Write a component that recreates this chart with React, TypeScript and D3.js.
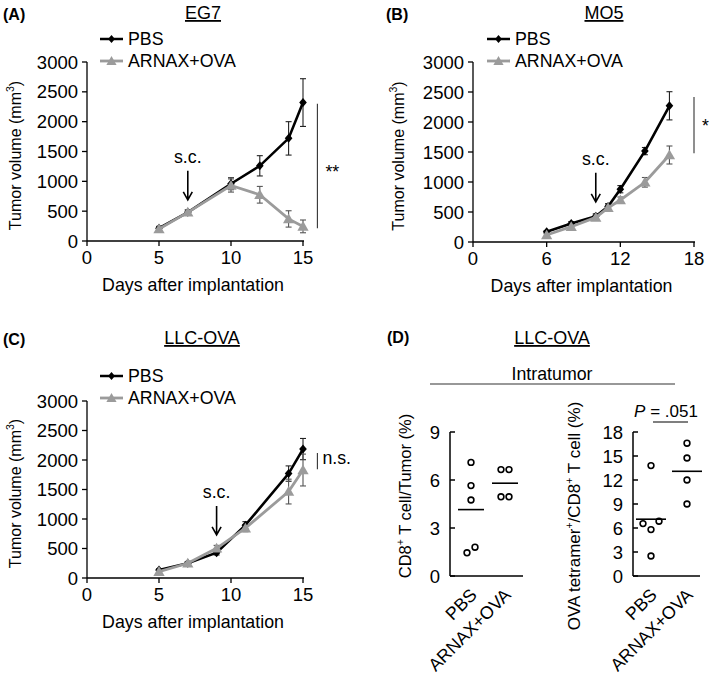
import React from 'react';
import * as d3 from 'd3';

const FONT = "'Liberation Sans', Arial, Helvetica, sans-serif";

// ---------- Panel A: EG7 ----------
const daysA = [5, 7, 10, 12, 14, 15];
const pbsA = [215, 480, 960, 1260, 1720, 2320];
const pbsErrA = [30, 40, 100, 170, 280, 400];
const arnaxA = [200, 480, 930, 775, 370, 245];
const arnaxErrA = [30, 40, 110, 140, 137, 107];
const xTicksA = [0, 5, 10, 15];

// ---------- Panel B: MO5 ----------
const daysB = [6, 8, 10, 11, 12, 14, 16];
const pbsB = [170, 310, 430, 590, 880, 1515, 2270];
const pbsErrB = [20, 30, 40, 50, 60, 60, 235];
const arnaxB = [117, 255, 410, 570, 700, 995, 1450];
const arnaxErrB = [20, 30, 40, 50, 50, 80, 150];
const xTicksB = [0, 6, 12, 18];

// ---------- Panel C: LLC-OVA ----------
const daysC = [5, 7, 9, 11, 14, 15];
const pbsC = [135, 250, 430, 895, 1770, 2185];
const pbsErrC = [20, 30, 40, 60, 130, 180];
const arnaxC = [108, 250, 503, 845, 1465, 1830];
const arnaxErrC = [20, 30, 50, 60, 210, 270];
const xTicksC = [0, 5, 10, 15];

const yTicksVolume = [0, 500, 1000, 1500, 2000, 2500, 3000];

// ---------- Panel D: LLC-OVA intratumor ----------
const groupsD = ['PBS', 'ARNAX+OVA'];
const cd8PBS = [7.1, 5.65, 4.75, 1.8, 1.45];
const cd8ARNAX = [6.65, 6.65, 4.95, 4.95];
const tetPBS = [13.8, 6.55, 6.85, 5.8, 2.5];
const tetARNAX = [16.6, 14.75, 12.0, 9.0];
const yTicksCD8 = [0, 3, 6, 9];
const yTicksTet = [0, 3, 6, 9, 12, 15, 18];

type Sig = { day: number; top: number; bottom: number; label: string };

type GrowthProps = {
  letter: string;
  title: string;
  days: number[];
  pbs: number[];
  pbsErr: number[];
  arnax: number[];
  arnaxErr: number[];
  xMax: number;
  xTicks: number[];
  left: number;
  right: number;
  top: number;
  bottom: number;
  letterX: number;
  titleX: number;
  headY: number;
  legendX: number;
  legendY: number;
  scDay: number;
  scTip: number;
  sig: Sig;
  sigLabelDx: number;
  sigLabelDy: number;
  yLabelX: number;
};

const TICK_FS = 18.5;
const LABEL_FS = 17.8;
const VLABEL_FS = 16;
const LETTER_FS = 16;

function Diamond({ cx, cy, s, fill }: { cx: number; cy: number; s: number; fill: string }) {
  return (
    <path
      d={`M${cx},${cy - s} L${cx + s * 0.85},${cy} L${cx},${cy + s} L${cx - s * 0.85},${cy} Z`}
      fill={fill}
    />
  );
}

function Triangle({ cx, cy, s, fill }: { cx: number; cy: number; s: number; fill: string }) {
  const p = d3.symbol(d3.symbolTriangle, s)();
  return <path d={p || ''} transform={`translate(${cx},${cy + 1})`} fill={fill} />;
}

function GrowthPanel(p: GrowthProps) {
  const x = d3.scaleLinear().domain([0, p.xMax]).range([p.left, p.right]);
  const y = d3.scaleLinear().domain([0, 3000]).range([p.bottom, p.top]);
  const line = d3
    .line<[number, number]>()
    .x((d) => x(d[0]))
    .y((d) => y(d[1]));
  const pbsPts = p.days.map((d, i) => [d, p.pbs[i]] as [number, number]);
  const arPts = p.days.map((d, i) => [d, p.arnax[i]] as [number, number]);
  const black = '#000';
  const gray = '#9b9b9b';
  const capW = 3;

  const errBars = (vals: number[], errs: number[], color: string) =>
    p.days.map((d, i) => {
      const cx = x(d);
      const y1 = y(vals[i] + errs[i]);
      const y2 = y(vals[i] - errs[i]);
      return (
        <g key={i} stroke={color} strokeWidth={1.1}>
          <line x1={cx} x2={cx} y1={y1} y2={y2} />
          <line x1={cx - capW} x2={cx + capW} y1={y1} y2={y1} />
          <line x1={cx - capW} x2={cx + capW} y1={y2} y2={y2} />
        </g>
      );
    });

  const scX = x(p.scDay);
  const tipY = y(p.scTip);
  const tailY = tipY - 29;
  const sigX = x(p.sig.day);
  const sigY1 = y(p.sig.top);
  const sigY2 = y(p.sig.bottom);

  return (
    <g fontFamily={FONT} fill="#000">
      <text x={p.letterX} y={p.headY + 1} fontSize={LETTER_FS} fontWeight="bold">
        {p.letter}
      </text>
      <text x={p.titleX} y={p.headY} fontSize={18} textAnchor="middle" textDecoration="underline">
        {p.title}
      </text>

      {/* legend */}
      <g>
        <line x1={p.legendX} x2={p.legendX + 23} y1={p.legendY} y2={p.legendY} stroke={black} strokeWidth={2.5} />
        <Diamond cx={p.legendX + 11.5} cy={p.legendY} s={4} fill={black} />
        <text x={p.legendX + 28} y={p.legendY + 6} fontSize={LABEL_FS}>
          PBS
        </text>
        <line x1={p.legendX} x2={p.legendX + 23} y1={p.legendY + 22} y2={p.legendY + 22} stroke={gray} strokeWidth={2.8} />
        <Triangle cx={p.legendX + 11.5} cy={p.legendY + 22} s={45} fill={gray} />
        <text x={p.legendX + 28} y={p.legendY + 28} fontSize={LABEL_FS}>
          ARNAX+OVA
        </text>
      </g>

      {/* axes */}
      <g stroke="#000" strokeWidth={1.3}>
        <line x1={p.left} x2={p.left} y1={p.top} y2={p.bottom} />
        <line x1={p.left} x2={p.right + 1} y1={p.bottom} y2={p.bottom} />
        {yTicksVolume.map((t) => (
          <line key={'yt' + t} x1={p.left - 5} x2={p.left} y1={y(t)} y2={y(t)} />
        ))}
        {p.xTicks.map((t) => (
          <line key={'xt' + t} x1={x(t)} x2={x(t)} y1={p.bottom} y2={p.bottom + 5} />
        ))}
      </g>
      {yTicksVolume.map((t) => (
        <text key={'yl' + t} x={p.left - 9} y={y(t) + 6.5} fontSize={TICK_FS} textAnchor="end">
          {t}
        </text>
      ))}
      {p.xTicks.map((t) => (
        <text key={'xl' + t} x={x(t)} y={p.bottom + 22.5} fontSize={TICK_FS} textAnchor="middle">
          {t}
        </text>
      ))}
      <text x={(p.left + p.right) / 2 - 2} y={p.bottom + 50} fontSize={LABEL_FS} textAnchor="middle">
        Days after implantation
      </text>
      <text
        transform={`translate(${p.yLabelX},${(p.top + p.bottom) / 2 + 4}) rotate(-90)`}
        fontSize={VLABEL_FS}
        textAnchor="middle"
      >
        Tumor volume (mm
        <tspan fontSize={10.5} dy={-7}>
          3
        </tspan>
        <tspan dy={7}>)</tspan>
      </text>

      {/* s.c. arrow */}
      <text x={scX} y={tailY - 8} fontSize={LABEL_FS} textAnchor="middle">
        s.c.
      </text>
      <path
        d={`M${scX},${tailY} L${scX},${tipY} M${scX - 4.5},${tipY - 8} L${scX},${tipY} L${scX + 4.5},${tipY - 8}`}
        stroke="#000"
        strokeWidth={1.6}
        fill="none"
      />

      {/* series */}
      {errBars(p.pbs, p.pbsErr, '#222')}
      {errBars(p.arnax, p.arnaxErr, '#555')}
      <path d={line(pbsPts) || ''} stroke={black} strokeWidth={2.6} fill="none" />
      {pbsPts.map((d, i) => (
        <Diamond key={'pd' + i} cx={x(d[0])} cy={y(d[1])} s={4.5} fill={black} />
      ))}
      <path d={line(arPts) || ''} stroke={gray} strokeWidth={2.8} fill="none" />
      {arPts.map((d, i) => (
        <Triangle key={'ad' + i} cx={x(d[0])} cy={y(d[1])} s={55} fill={gray} />
      ))}

      {/* significance */}
      <line x1={sigX} x2={sigX} y1={sigY1} y2={sigY2} stroke="#333" strokeWidth={1.1} />
      <text x={sigX + p.sigLabelDx} y={(sigY1 + sigY2) / 2 + p.sigLabelDy} fontSize={LABEL_FS}>
        {p.sig.label}
      </text>
    </g>
  );
}

function dodgeOffsets(vals: number[], y: (v: number) => number, minGap: number, d: number) {
  const idx = vals.map((_, i) => i).sort((a, b) => vals[a] - vals[b]);
  const offs = new Array(vals.length).fill(0);
  let cluster: number[] = [];
  const flush = () => {
    const n = cluster.length;
    if (n === 2) {
      offs[cluster[0]] = -d / 2;
      offs[cluster[1]] = d / 2;
    } else if (n >= 3) {
      cluster.forEach((ci, k) => {
        const m = Math.ceil(k / 2);
        offs[ci] = k === 0 ? 0 : k % 2 === 1 ? -d * m : d * m;
      });
    }
    cluster = [];
  };
  for (const i of idx) {
    if (cluster.length) {
      const last = cluster[cluster.length - 1];
      if (Math.abs(y(vals[i]) - y(vals[last])) >= minGap) flush();
    }
    cluster.push(i);
  }
  flush();
  return offs;
}

type DotProps = {
  data: number[][];
  yMax: number;
  yTicks: number[];
  axisLeft: number;
  axisRight: number;
  catLeft: number;
  catRight: number;
  top: number;
  bottom: number;
  meanHalf: number;
};

function DotPanel(p: DotProps) {
  const y = d3.scaleLinear().domain([0, p.yMax]).range([p.bottom, p.top]);
  const x = d3.scalePoint<string>().domain(groupsD).range([p.catLeft, p.catRight]);
  return (
    <g fontFamily={FONT}>
      <g stroke="#000" strokeWidth={1.5}>
        <line x1={p.axisLeft} x2={p.axisLeft} y1={p.top} y2={p.bottom} />
        <line x1={p.axisLeft} x2={p.axisRight} y1={p.bottom} y2={p.bottom} />
        {p.yTicks.map((t) => (
          <line key={t} x1={p.axisLeft} x2={p.axisLeft + 5} y1={y(t)} y2={y(t)} />
        ))}
      </g>
      {p.yTicks.map((t) => (
        <text key={'l' + t} x={p.axisLeft - 10} y={y(t) + 6.5} fontSize={TICK_FS} textAnchor="end">
          {t}
        </text>
      ))}
      {groupsD.map((g, gi) => {
        const vals = p.data[gi];
        const cx = x(g) as number;
        const offs = dodgeOffsets(vals, y, 7.5, 8);
        const m = d3.mean(vals) as number;
        return (
          <g key={g}>
            {vals.map((v, i) => (
              <circle key={i} cx={cx + offs[i]} cy={y(v)} r={2.9} fill="#fff" stroke="#000" strokeWidth={1.6} />
            ))}
            <line x1={cx - p.meanHalf} x2={cx + p.meanHalf} y1={y(m)} y2={y(m)} stroke="#000" strokeWidth={1.6} />
            <text
              transform={`translate(${cx + 7},${p.bottom + 20}) rotate(-45)`}
              fontSize={LABEL_FS}
              textAnchor="end"
            >
              {g}
            </text>
          </g>
        );
      })}
    </g>
  );
}

export default function App() {
  return (
    <svg
      width={709}
      height={677}
      style={{ position: 'absolute', left: 0, top: 0, background: '#fff' }}
    >
      <rect width={709} height={677} fill="#fff" />
      <GrowthPanel
        letter="(A)"
        title="EG7"
        days={daysA}
        pbs={pbsA}
        pbsErr={pbsErrA}
        arnax={arnaxA}
        arnaxErr={arnaxErrA}
        xMax={15}
        xTicks={xTicksA}
        left={87}
        right={303}
        top={62}
        bottom={241}
        letterX={3}
        titleX={203}
        headY={19}
        legendX={100}
        legendY={39}
        scDay={7}
        scTip={690}
        sig={{ day: 16, top: 2300, bottom: 215, label: '**' }}
        sigLabelDx={8}
        sigLabelDy={12}
        yLabelX={21}
      />
      <GrowthPanel
        letter="(B)"
        title="MO5"
        days={daysB}
        pbs={pbsB}
        pbsErr={pbsErrB}
        arnax={arnaxB}
        arnaxErr={arnaxErrB}
        xMax={18}
        xTicks={xTicksB}
        left={473}
        right={694}
        top={62}
        bottom={242}
        letterX={386}
        titleX={604}
        headY={19}
        legendX={487}
        legendY={39}
        scDay={10}
        scTip={670}
        sig={{ day: 18, top: 2415, bottom: 1480, label: '*' }}
        sigLabelDx={8}
        sigLabelDy={7}
        yLabelX={404}
      />
      <GrowthPanel
        letter="(C)"
        title="LLC-OVA"
        days={daysC}
        pbs={pbsC}
        pbsErr={pbsErrC}
        arnax={arnaxC}
        arnaxErr={arnaxErrC}
        xMax={15}
        xTicks={xTicksC}
        left={87}
        right={303}
        top={401}
        bottom={578}
        letterX={3}
        titleX={202}
        headY={344}
        legendX={100}
        legendY={376}
        scDay={9}
        scTip={730}
        sig={{ day: 16, top: 2120, bottom: 1845, label: 'n.s.' }}
        sigLabelDx={5}
        sigLabelDy={3}
        yLabelX={21}
      />

      {/* Panel D */}
      <g fontFamily={FONT}>
        <text x={387} y={343} fontSize={LETTER_FS} fontWeight="bold">
          (D)
        </text>
        <text x={552} y={344} fontSize={18} textAnchor="middle" textDecoration="underline">
          LLC-OVA
        </text>
        <text x={552} y={380} fontSize={LABEL_FS} textAnchor="middle">
          Intratumor
        </text>
        <line x1={430} x2={675} y1={384} y2={384} stroke="#333" strokeWidth={1.1} />
        <text transform="translate(411,496) rotate(-90)" fontSize={VLABEL_FS + 0.5} textAnchor="middle">
          CD8
          <tspan fontSize={10.5} dy={-7}>+</tspan>
          <tspan dy={7}> T cell/Tumor (%)</tspan>
        </text>
        <text transform="translate(580,516) rotate(-90)" fontSize={17} textAnchor="middle">
          OVA tetramer
          <tspan fontSize={10.5} dy={-7}>+</tspan>
          <tspan dy={7}>/CD8</tspan>
          <tspan fontSize={10.5} dy={-7}>+</tspan>
          <tspan dy={7}> T cell (%)</tspan>
        </text>
        <text x={666} y={417} fontSize={17} textAnchor="middle">
          <tspan fontStyle="italic">P</tspan> = .051
        </text>
        <line x1={653} x2={688} y1={422} y2={422} stroke="#000" strokeWidth={1.1} />
      </g>
      <DotPanel
        data={[cd8PBS, cd8ARNAX]}
        yMax={9}
        yTicks={yTicksCD8}
        axisLeft={450}
        axisRight={523}
        catLeft={471}
        catRight={505}
        top={432}
        bottom={576}
        meanHalf={13}
      />
      <DotPanel
        data={[tetPBS, tetARNAX]}
        yMax={18}
        yTicks={yTicksTet}
        axisLeft={633}
        axisRight={700}
        catLeft={651}
        catRight={687}
        top={432}
        bottom={576}
        meanHalf={15}
      />
    </svg>
  );
}
